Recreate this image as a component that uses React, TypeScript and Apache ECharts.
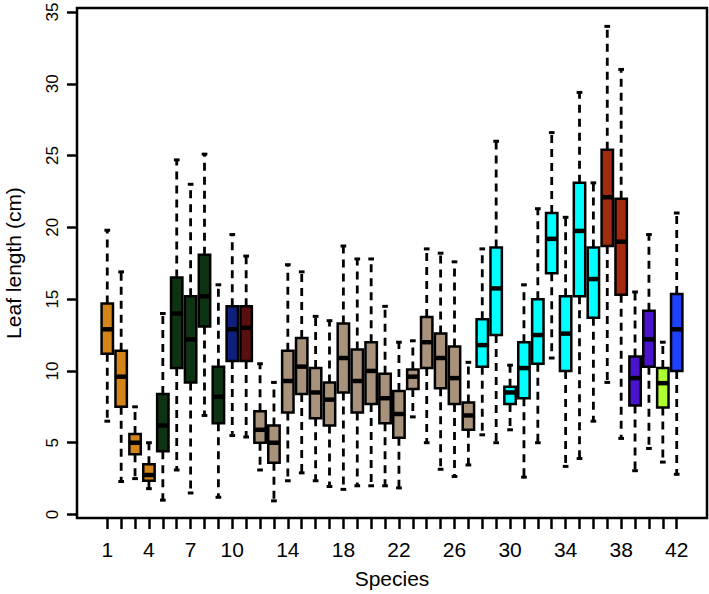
import React, { useEffect, useRef } from "react";
import * as echarts from "echarts";

// ---- data ----
const species = [
  1, 2, 3, 4, 5, 6, 7, 8, 9, 10, 11, 12, 13, 14, 15, 16, 17, 18, 19, 20, 21,
  22, 23, 24, 25, 26, 27, 28, 29, 30, 31, 32, 33, 34, 35, 36, 37, 38, 39, 40, 41, 42,
];
const lowWhisker = [
  6.5, 2.3, 2.5, 1.8, 1.0, 3.1, 1.5, 6.9, 1.2, 5.5, 5.4, 3.1, 0.95, 2.35, 2.9,
  2.35, 1.95, 1.75, 2.0, 2.0, 2.0, 1.85, 6.8, 5.0, 3.15, 2.65, 3.45, 5.55, 5.0,
  5.9, 2.6, 5.0, 10.9, 3.35, 3.9, 6.5, 9.2, 5.3, 3.05, 4.6, 3.65, 2.8,
];
const lowerQuartile = [
  11.2, 7.5, 4.2, 2.35, 4.4, 10.2, 9.2, 13.1, 6.35, 10.7, 10.7, 5.0, 3.6, 7.1,
  8.4, 6.7, 6.2, 8.5, 7.1, 7.7, 6.35, 5.35, 8.75, 10.2, 8.8, 7.7, 5.9, 10.3,
  12.5, 7.7, 8.1, 10.5, 16.8, 10.0, 15.2, 13.7, 18.7, 15.3, 7.6, 10.3, 7.45, 10.0,
];
const medians = [
  12.9, 9.6, 5.0, 2.75, 6.2, 14.0, 12.2, 15.2, 8.2, 12.9, 13.0, 5.9, 5.0, 9.3,
  10.3, 8.5, 8.0, 10.9, 9.3, 10.0, 8.1, 7.0, 9.6, 12.0, 10.9, 9.5, 6.9, 11.8,
  15.75, 8.5, 10.2, 12.5, 19.2, 12.6, 19.75, 16.4, 22.1, 19.0, 9.5, 12.2, 9.15, 12.9,
];
const upperQuartile = [
  14.7, 11.4, 5.6, 3.5, 8.4, 16.5, 15.2, 18.1, 10.3, 14.5, 14.5, 7.2, 6.2, 11.4,
  12.3, 10.2, 9.2, 13.3, 11.5, 12.0, 9.8, 8.6, 10.1, 13.75, 12.6, 11.7, 7.8,
  13.6, 18.6, 8.9, 12.0, 15.0, 21.0, 15.2, 23.1, 18.6, 25.4, 22.0, 11.0, 14.2, 10.2, 15.35,
];
const highWhisker = [
  19.8, 16.9, 7.5, 5.0, 14.0, 24.7, 23.0, 25.1, 16.0, 19.5, 18.0, 10.5, 9.2,
  17.4, 16.9, 13.8, 13.5, 18.7, 17.8, 17.8, 14.5, 12.0, 12.1, 18.5, 18.2, 17.6,
  10.6, 18.5, 26.0, 10.4, 16.0, 21.3, 26.6, 20.7, 29.4, 23.1, 34.0, 31.0, 15.5, 19.5, 12.0, 21.0,
];
const boxColors = [
  "#D4851A", "#D4851A", "#D4851A", "#D4851A",
  "#0E3312", "#0E3312", "#0E3312", "#0E3312", "#0E3312",
  "#0F1F7D", "#5A1010",
  "#A8927B", "#A8927B", "#A8927B", "#A8927B", "#A8927B", "#A8927B", "#A8927B", "#A8927B",
  "#A8927B", "#A8927B", "#A8927B", "#A8927B", "#A8927B", "#A8927B", "#A8927B", "#A8927B",
  "#00FFFF", "#00FFFF", "#00FFFF", "#00FFFF", "#00FFFF", "#00FFFF", "#00FFFF", "#00FFFF", "#00FFFF",
  "#A22A0E", "#A22A0E",
  "#4A14CC", "#4A14CC",
  "#ADFF2F",
  "#1E40FF",
];
const xTickLabels = [1, 4, 7, 10, 14, 18, 22, 26, 30, 34, 38, 42];
const yTickLabels = [0, 5, 10, 15, 20, 25, 30, 35];

const FONT = "Liberation Sans, Arial, Helvetica, sans-serif";

export default function App() {
  const ref = useRef<HTMLDivElement>(null);

  useEffect(() => {
    if (!ref.current) return;
    const chart = echarts.init(ref.current, undefined, { renderer: "svg" });

    const seriesData = species.map((s, i) => [
      s,
      lowWhisker[i],
      lowerQuartile[i],
      medians[i],
      upperQuartile[i],
      highWhisker[i],
      i,
    ]);

    const renderItem = (params: any, api: any) => {
      const x = api.value(0);
      const lo = api.coord([x, api.value(1)]);
      const q1 = api.coord([x, api.value(2)]);
      const md = api.coord([x, api.value(3)]);
      const q3 = api.coord([x, api.value(4)]);
      const hi = api.coord([x, api.value(5)]);
      const color = boxColors[api.value(6)];
      const bw = api.size([0.82, 0])[0];
      const cw = api.size([0.41, 0])[0];
      const cx = lo[0];
      const dashStyle = { stroke: "#000", lineWidth: 2.8, lineDash: [8, 6], fill: null };
      const capStyle = { stroke: "#000", lineWidth: 3, fill: null };
      return {
        type: "group",
        children: [
          { type: "line", shape: { x1: cx, y1: q3[1], x2: cx, y2: hi[1] }, style: dashStyle },
          { type: "line", shape: { x1: cx, y1: q1[1], x2: cx, y2: lo[1] }, style: dashStyle },
          { type: "line", shape: { x1: cx - cw / 2, y1: hi[1], x2: cx + cw / 2, y2: hi[1] }, style: capStyle },
          { type: "line", shape: { x1: cx - cw / 2, y1: lo[1], x2: cx + cw / 2, y2: lo[1] }, style: capStyle },
          {
            type: "rect",
            shape: { x: cx - bw / 2, y: q3[1], width: bw, height: q1[1] - q3[1] },
            style: { fill: color, stroke: "#000", lineWidth: 2.5 },
          },
          {
            type: "line",
            shape: { x1: cx - bw / 2, y1: md[1], x2: cx + bw / 2, y2: md[1] },
            style: { stroke: "#000", lineWidth: 4.5, fill: null },
          },
        ],
      };
    };

    chart.setOption({
      animation: false,
      backgroundColor: "#fff",
      grid: {
        left: 77,
        right: 2,
        top: 8,
        bottom: 76,
        containLabel: false,
        outerBoundsMode: "none",
      },
      graphic: [
        {
          type: "rect",
          shape: { x: 77, y: 8, width: 630, height: 510 },
          style: { fill: "none", stroke: "#000", lineWidth: 2.5 },
          z: 100,
          silent: true,
        },
      ],
      xAxis: {
        type: "value",
        min: -1.18,
        max: 44.18,
        name: "Species",
        nameLocation: "middle",
        nameGap: 50,
        nameTextStyle: { color: "#000", fontSize: 21, fontFamily: FONT },
        axisLine: { show: false, onZero: false },
        splitLine: { show: false },
        axisTick: {
          show: true,
          length: 11,
          customValues: species,
          lineStyle: { color: "#000", width: 2.5 },
        },
        axisLabel: {
          customValues: xTickLabels,
          color: "#000",
          fontSize: 21,
          fontFamily: FONT,
          margin: 21,
        },
      },
      yAxis: {
        type: "value",
        min: -0.244,
        max: 35.28,
        name: "Leaf length (cm)",
        nameLocation: "middle",
        nameGap: 53,
        nameMoveOverlap: false,
        nameTextStyle: { color: "#000", fontSize: 21, fontFamily: FONT },
        axisLine: { show: false, onZero: false },
        splitLine: { show: false },
        axisTick: {
          show: true,
          length: 10,
          customValues: yTickLabels,
          lineStyle: { color: "#000", width: 2.5 },
        },
        axisLabel: {
          customValues: yTickLabels,
          rotate: 90,
          color: "#000",
          fontSize: 17,
          fontFamily: FONT,
          margin: 16,
        },
      },
      series: [
        {
          type: "custom",
          renderItem,
          data: seriesData,
          encode: { x: 0, y: [1, 2, 3, 4, 5] },
          clip: false,
        },
      ],
    });

    return () => chart.dispose();
  }, []);

  return (
    <div
      ref={ref}
      style={{ position: "fixed", left: 0, top: 0, width: 709, height: 594, background: "#fff" }}
    />
  );
}
